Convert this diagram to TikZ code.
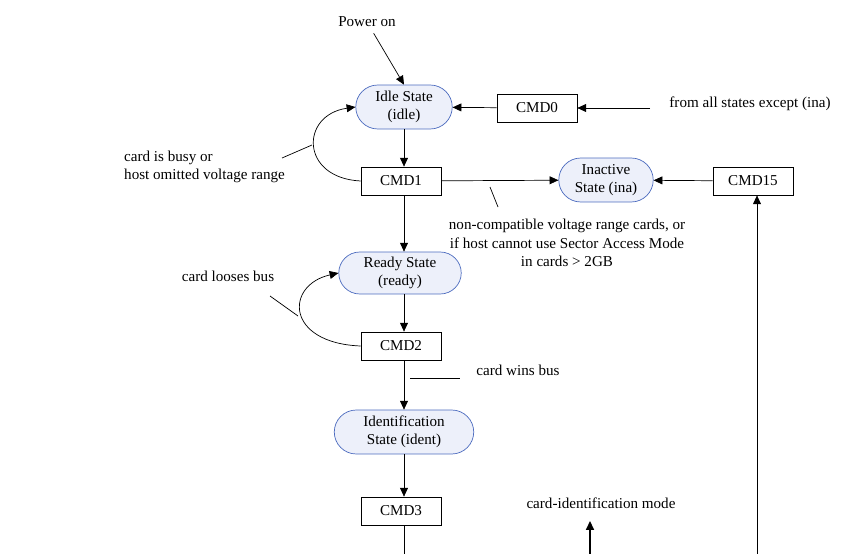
\documentclass[tikz,border=0pt]{standalone}
\usepackage{fontspec}
\setmainfont{Liberation Serif}
\usetikzlibrary{shapes.misc, arrows.meta, positioning}
\definecolor{statefill}{rgb}{0.93,0.94,0.98}
\definecolor{stateline}{rgb}{0.30,0.42,0.75}

\begin{document}
\begin{tikzpicture}[x=0.02cm, y=-0.02cm,
    font=\fontsize{8.6}{10.5}\selectfont,
    state/.style={rounded rectangle, draw=stateline, fill=statefill, align=center, inner sep=1pt},
    cmd/.style={rectangle, draw, minimum width=1.6cm, minimum height=0.56cm},
    arrow/.style={-{Triangle[length=5pt,width=4.5pt]}},
    tick/.style={thin}
]
\useasboundingbox (0,0) rectangle (862,554);

\node (power) at (367,22) {Power on};
\node[state, minimum width=2cm, minimum height=0.88cm] (idle) at (404,107) {Idle State\\(idle)};
\node[cmd] (cmd0) at (537,108) {CMD0};
\node (allst) at (750,104) {from all states except (ina)};
\node[cmd] (cmd1) at (401,181) {CMD1};
\node[state, minimum width=1.96cm, minimum height=0.88cm] (ina) at (606,180) {Inactive\\State (ina)};
\node[cmd] (cmd15) at (753,181) {CMD15};
\node[state, minimum width=2.52cm, minimum height=0.84cm] (ready) at (400,273) {Ready State\\(ready)};
\node[cmd] (cmd2) at (401,346) {CMD2};
\node[state, minimum width=2.86cm, minimum height=0.88cm] (ident) at (404,432) {Identification\\State (ident)};
\node[cmd] (cmd3) at (401,511) {CMD3};

\node[align=left, anchor=west] (busy) at (118,167) {card is busy or\\host omitted voltage range};
\node (loose) at (228,276) {card looses bus};
\node (wins) at (518,370) {card wins bus};
\node[align=center] (noncomp) at (567,243) {non-compatible voltage range cards, or\\if host cannot use Sector Access Mode\\in cards > 2GB};
\node (mode) at (601,503) {card-identification mode};

\coordinate (allin) at (650,108);
\coordinate (bot15) at (757,554);
\coordinate (bot3) at (404,554);
\coordinate (botmode) at (590,554);
\coordinate (modetip) at (590,521);

\draw[arrow] (power) -- (idle.north);
\draw[arrow] (allin) -- (cmd0);
\draw[arrow] (cmd0) -- (idle);
\draw[arrow] (idle.south) -- (cmd1.north -| idle.south);
\draw[arrow] (cmd1) -- (ina);
\draw[arrow] (cmd15) -- (ina);
\draw[arrow] (bot15) -- (bot15 |- cmd15.south);
\draw[arrow] (cmd1.south -| idle.south) -- (ready.north -| idle.south);
\draw[arrow] (ready.south -| idle.south) -- (cmd2.north -| idle.south);
\draw[arrow] (cmd2.south -| idle.south) -- (ident.north -| idle.south);
\draw[arrow] (ident.south -| idle.south) -- (cmd3.north -| idle.south);
\draw (cmd3.south -| idle.south) -- (bot3);
\draw[arrow, thick] (botmode) -- (modetip);

% loops back to the states
\draw[arrow] (cmd1.west) .. controls (300,178) and (300,115) .. (idle.west);
\draw[arrow] (cmd2.west) .. controls (285,343) and (285,285) .. (ready.west);

% label ticks
\draw[tick] (282,158) -- (312,145);
\draw[tick] (270,296) -- (298,316);
\draw[tick] (490,187) -- (498,207);
\draw[tick] (410,378) -- (460,378);
\end{tikzpicture}
\end{document}
